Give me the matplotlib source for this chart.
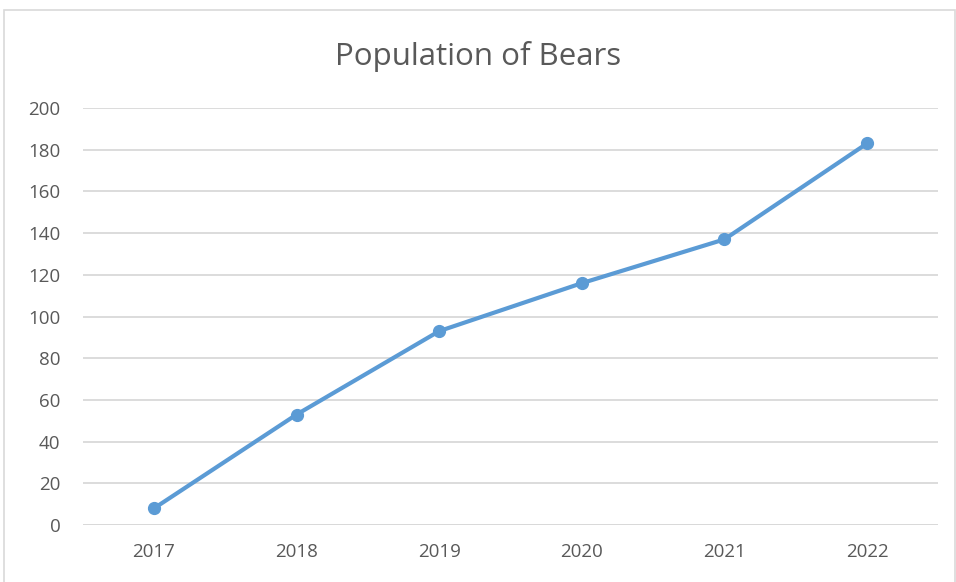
import matplotlib
matplotlib.use('Agg')
import matplotlib.pyplot as plt
from matplotlib.patches import Rectangle

years = ['2017', '2018', '2019', '2020', '2021', '2022']
bears = [8, 53, 93, 116, 137, 183]
y_ticks = [0, 20, 40, 60, 80, 100, 120, 140, 160, 180, 200]

text_color = '#595959'
grid_color = '#d9d9d9'
line_color = '#5b9bd5'

fig = plt.figure(figsize=(9.56, 5.82), dpi=100)
fig.patches.append(Rectangle((4 / 956, -0.01), 951 / 956, 1 - 10 / 582 + 0.01,
                             transform=fig.transFigure, fill=False,
                             edgecolor=grid_color, linewidth=1.2))

ax = fig.add_axes([0.0865, 0.0979, 0.895, 0.7165])
x = list(range(len(years)))
ax.plot(x, bears, color=line_color, linewidth=3, marker='o', markersize=8.5,
        solid_capstyle='round', zorder=3)

ax.set_xlim(-0.5, len(years) - 0.5)
ax.set_ylim(0, 200)
ax.set_yticks(y_ticks)
ax.set_xticks(x)
ax.set_xticklabels(years)
ax.yaxis.grid(True, color=grid_color, linewidth=1.3)
ax.set_axisbelow(True)
for s in ax.spines.values():
    s.set_visible(False)
ax.axhline(0, color=grid_color, linewidth=1.3, zorder=1)
ax.tick_params(axis='both', length=0, colors=text_color, labelsize=13.5)
ax.tick_params(axis='y', pad=16)
ax.tick_params(axis='x', pad=13)
for lab in ax.get_xticklabels() + ax.get_yticklabels():
    lab.set_fontfamily('Open Sans')

fig.text(0.5, 1 - 56 / 582, 'Population of Bears', ha='center', va='center',
         fontsize=22.5, color=text_color, fontfamily='Open Sans')

fig.savefig('out.png', dpi=100)
